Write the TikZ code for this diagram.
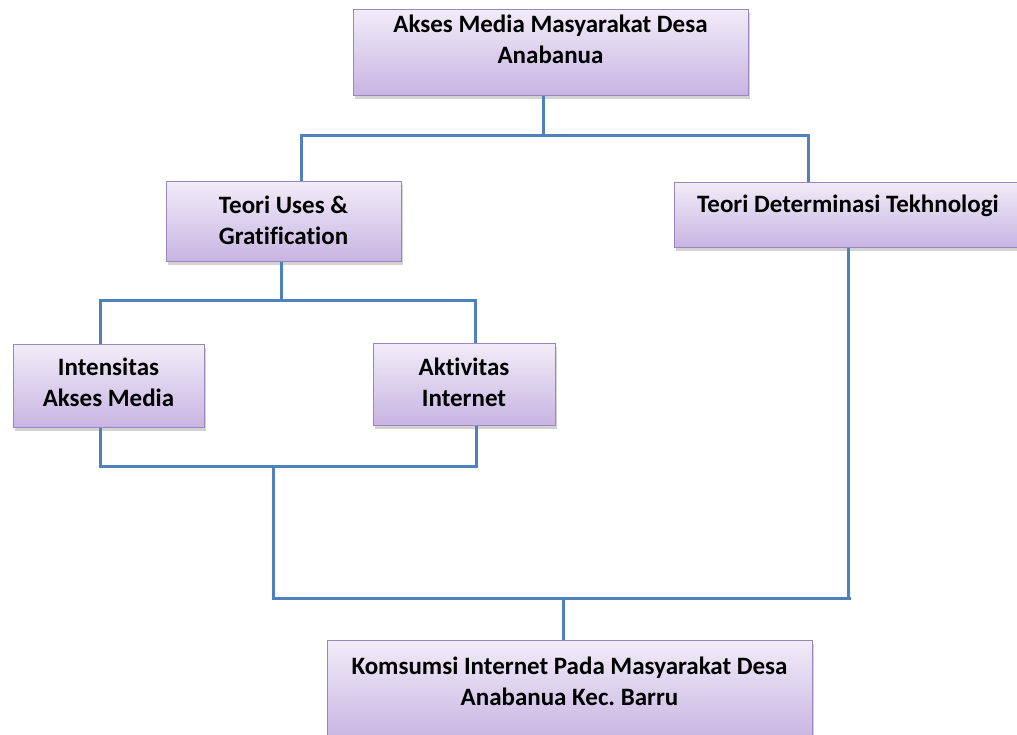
\documentclass[tikz,border=0pt]{standalone}
\usepackage{fontspec}
\setmainfont{Carlito}[Ligatures=NoCommon]
\usetikzlibrary{shadows}
\definecolor{biru}{HTML}{4F81BD}
\definecolor{ungutepi}{HTML}{9B87BE}
\definecolor{ungumuda}{HTML}{F1ECF8}
\definecolor{ungutua}{HTML}{C8B4E2}
\tikzset{
  kotak/.style={
    rectangle, draw=ungutepi, line width=1pt,
    top color=ungumuda, bottom color=ungutua,
    drop shadow={shadow xshift=2pt, shadow yshift=-3pt, opacity=0.35},
    inner sep=0pt, align=center, anchor=north,
    font=\fontsize{25}{31}\selectfont\bfseries
  },
  garis/.style={draw=biru, line width=3pt},
}
\frenchspacing

\begin{document}
\begin{tikzpicture}[x=1pt, y=-1pt]
  \useasboundingbox (0,0) rectangle (1017,734);
  \clip (0,0) rectangle (1017,734);

  % kotak-kotak
  \node[kotak, minimum width=395pt, text height=54pt, text depth=32pt] (akses) at (550.5,9)
    {Akses Media Masyarakat Desa\\Anabanua};
  \node[kotak, minimum width=235pt, text height=63pt, text depth=17pt] (uses) at (283.5,181)
    {Teori Uses \&\\Gratification};
  \node[kotak, minimum width=348pt, text height=30pt, text depth=35pt] (teknologi) at (848,182)
    {Teori Determinasi Tekhnologi};
  \node[kotak, minimum width=191pt, text height=62pt, text depth=21pt] (intensitas) at (108.5,344)
    {Intensitas\\Akses Media};
  \node[kotak, minimum width=182pt, text height=63pt, text depth=19pt] (aktivitas) at (464,343)
    {Aktivitas\\Internet};
  \node[kotak, minimum width=485pt, text height=65pt, text depth=35pt] (konsumsi) at (569.5,640)
    {Komsumsi Internet Pada Masyarakat Desa\\Anabanua Kec. Barru};

  % titik sambung
  \coordinate (c0) at (543,135);
  \coordinate (c1) at (301,135);
  \coordinate (c2) at (808,135);
  \coordinate (b0) at (281,300);
  \coordinate (b1) at (100,300);
  \coordinate (b2) at (475,300);
  \coordinate (d0) at (273,466);
  \coordinate (d1) at (100,466);
  \coordinate (d2) at (476,466);
  \coordinate (e0) at (563,598);
  \coordinate (e1) at (273,598);
  \coordinate (e2) at (851,598);

  % garis penghubung
  \draw[garis] (akses.south -| c0) -- (c0);
  \draw[garis] (uses.north -| c1) -- (c1) -- (c2) -- (teknologi.north -| c2);
  \draw[garis] (uses.south -| b0) -- (b0);
  \draw[garis] (intensitas.north -| b1) -- (b1) -- (b2) -- (aktivitas.north -| b2);
  \draw[garis] (intensitas.south -| d1) -- (d1) -- (d2) -- (aktivitas.south -| d2);
  \draw[garis] (d0) -- (e1) -- (e2);
  \draw[garis] (teknologi.south) -- (teknologi.south |- e2);
  \draw[garis] (e0) -- (konsumsi.north -| e0);
\end{tikzpicture}
\end{document}
